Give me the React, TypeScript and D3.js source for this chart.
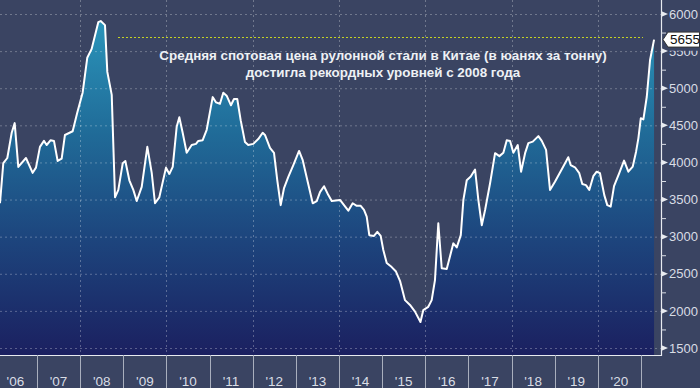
import React, { useEffect, useRef } from "react";
import * as d3 from "d3";

// decimal years (vertices of the line)
const years = [
  2006.142, 2006.219, 2006.312, 2006.414, 2006.483, 2006.567, 2006.745, 2006.9, 2006.977,
  2007.069, 2007.162, 2007.225, 2007.318, 2007.394, 2007.48, 2007.573, 2007.649, 2007.828, 2007.934,
  2008.059, 2008.166, 2008.268, 2008.421, 2008.477, 2008.576, 2008.63, 2008.732, 2008.808, 2008.885, 2008.987,
  2009.047, 2009.14, 2009.232, 2009.311, 2009.427, 2009.557, 2009.659, 2009.735, 2009.835, 2009.99,
  2010.067, 2010.146, 2010.238, 2010.299, 2010.377, 2010.47, 2010.586, 2010.686, 2010.739, 2010.841, 2010.934,
  2011.073, 2011.149, 2011.242, 2011.319, 2011.397, 2011.497, 2011.567, 2011.643, 2011.722, 2011.822, 2011.898,
  2012.014, 2012.13, 2012.232, 2012.285, 2012.401, 2012.494, 2012.57, 2012.649, 2012.726, 2012.825, 2012.941,
  2013.074, 2013.159, 2013.266, 2013.391, 2013.484, 2013.56, 2013.653, 2013.753, 2013.832,
  2014.024, 2014.117, 2014.216, 2014.318, 2014.411, 2014.504, 2014.58, 2014.643, 2014.703, 2014.812, 2014.889, 2014.967,
  2015.028, 2015.107, 2015.223, 2015.322, 2015.415, 2015.531, 2015.647, 2015.763, 2015.89, 2015.955,
  2016.071, 2016.15, 2016.226, 2016.303, 2016.382, 2016.498, 2016.651, 2016.73, 2016.823, 2016.883, 2016.961,
  2017.054, 2017.154, 2017.23, 2017.309, 2017.386, 2017.502, 2017.618, 2017.718, 2017.81, 2017.889, 2017.966,
  2018.042, 2018.144, 2018.221, 2018.314, 2018.39, 2018.492, 2018.622, 2018.701, 2018.801, 2018.892,
  2019.007, 2019.2, 2019.316, 2019.371, 2019.471, 2019.571, 2019.641, 2019.726, 2019.803, 2019.896, 2019.975,
  2020.051, 2020.151, 2020.22, 2020.299, 2020.376, 2020.499, 2020.608, 2020.707, 2020.809, 2020.886, 2020.939, 2020.995,
  2021.055, 2021.134, 2021.21, 2021.303,
];

// average spot price, yuan per tonne
const prices = [
  3450, 3990, 4060, 4400, 4530, 3940, 4060, 3860, 3930,
  4210, 4290, 4235, 4300, 4290, 4020, 4050, 4370, 4420, 4670,
  4940, 5410, 5530, 5890, 5905, 5850, 5220, 4910, 3530, 3630, 3990,
  4020, 3760, 3630, 3480, 3670, 4210, 3860, 3450, 3530, 3930,
  3845, 3940, 4480, 4610, 4400, 4130, 4235, 4250, 4290, 4300, 4440,
  4880, 4810, 4790, 4940, 4900, 4770, 4855, 4855, 4570, 4275, 4235,
  4250, 4315, 4400, 4370, 4195, 4130, 3760, 3425, 3655, 3805, 3965,
  4155, 4030, 3760, 3450, 3480, 3600, 3680, 3560, 3480,
  3495, 3425, 3350, 3450, 3415, 3415, 3360, 3270, 3020, 3010, 3065, 3010,
  2820, 2645, 2590, 2530, 2405, 2145, 2080, 1990, 1850, 2010,
  2055, 2145, 2415, 3180, 2575, 2565, 2910, 2855, 3020, 3495, 3760,
  3810, 3905, 3495, 3155, 3360, 3720, 4125, 4085, 4130, 4300, 4290,
  4130, 4235, 3875, 4125, 4260, 4280, 4355, 4290, 4170, 3630,
  3740, 3945, 4070, 3965, 3935, 3855, 3710, 3695, 3630, 3815, 3875,
  3855, 3560, 3425, 3405, 3680, 3860, 4025, 3875, 3945, 4145, 4325, 4595,
  4580, 4885, 5380, 5655,
];

const yTicks = [1500, 2000, 2500, 3000, 3500, 4000, 4500, 5000, 5500, 6000];
const yearLabels = ["'06", "'07", "'08", "'09", "'10", "'11", "'12", "'13", "'14", "'15", "'16", "'17", "'18", "'19", "'20"];
const titleLines = [
  "Средняя спотовая цена рулонной стали в Китае (в юанях за тонну)",
  "достигла рекордных уровней с 2008 года",
];
// dotted reference level (2008 record) and its span
const recordLevel = 5690;
const recordSpan = [2008.877, 2021.047];

const toDate = (t: number) => {
  const y = Math.floor(t);
  const a = +new Date(y, 0, 1);
  const b = +new Date(y + 1, 0, 1);
  return new Date(a + (t - y) * (b - a));
};

export default function App() {
  const ref = useRef<SVGSVGElement>(null);

  useEffect(() => {
    document.body.style.margin = "0";
    const width = 700;
    const height = 388;
    const plotRight = 661;
    const plotBottom = 355;
    const font = "'Liberation Sans', Arial, sans-serif";

    const svg = d3.select(ref.current);
    svg.selectAll("*").remove();

    const x = d3
      .scaleTime()
      .domain([new Date(2006, 0, 1), new Date(2021, 0, 1)])
      .range([-6.14, 641]);
    const y = d3.scaleLinear().domain([1500, 6000]).range([348, 14]);

    const data = years.map((t, i) => ({ date: toDate(t), value: prices[i] }));

    svg.append("rect").attr("width", width).attr("height", height).attr("fill", "#3a4462");

    const defs = svg.append("defs");
    const grad = defs
      .append("linearGradient")
      .attr("id", "areaGrad")
      .attr("gradientUnits", "userSpaceOnUse")
      .attr("x1", 0)
      .attr("x2", 0)
      .attr("y1", 14)
      .attr("y2", plotBottom);
    [
      [0, "#2b97bc"],
      [0.35, "#206b98"],
      [0.65, "#1d467e"],
      [1, "#1b2060"],
    ].forEach(([o, c]) => grad.append("stop").attr("offset", o as number).attr("stop-color", c as string));

    const area = d3
      .area<{ date: Date; value: number }>()
      .x((d) => x(d.date))
      .y0(plotBottom)
      .y1((d) => y(d.value));
    const line = d3
      .line<{ date: Date; value: number }>()
      .x((d) => x(d.date))
      .y((d) => y(d.value));

    svg.append("path").datum(data).attr("d", area).attr("fill", "url(#areaGrad)");

    // grid
    const grid = svg.append("g").attr("stroke", "rgba(255,255,255,0.28)").attr("stroke-dasharray", "2,3");
    grid
      .selectAll("line.h")
      .data(yTicks)
      .join("line")
      .attr("class", "h")
      .attr("x1", 0)
      .attr("x2", plotRight)
      .attr("y1", (d) => y(d) + 0.5)
      .attr("y2", (d) => y(d) + 0.5);
    grid
      .selectAll("line.v")
      .data(d3.range(2008, 2021, 2))
      .join("line")
      .attr("class", "v")
      .attr("x1", (d) => Math.round(x(new Date(d, 0, 1))) + 0.5)
      .attr("x2", (d) => Math.round(x(new Date(d, 0, 1))) + 0.5)
      .attr("y1", 0)
      .attr("y2", plotBottom);

    svg
      .append("path")
      .datum(data)
      .attr("d", line)
      .attr("fill", "none")
      .attr("stroke", "#ffffff")
      .attr("stroke-width", 2)
      .attr("stroke-linejoin", "round");

    // record level
    svg
      .append("line")
      .attr("x1", x(toDate(recordSpan[0])))
      .attr("x2", x(toDate(recordSpan[1])))
      .attr("y1", Math.round(y(recordLevel)) + 0.5)
      .attr("y2", Math.round(y(recordLevel)) + 0.5)
      .attr("stroke", "#c6d423")
      .attr("stroke-width", 1)
      .attr("stroke-dasharray", "2,2");

    // title
    svg
      .append("g")
      .attr("text-anchor", "middle")
      .attr("font-family", font)
      .attr("font-weight", "bold")
      .attr("font-size", 13.4)
      .attr("fill", "#eef1f5")
      .selectAll("text")
      .data(titleLines)
      .join("text")
      .attr("x", 383)
      .attr("y", (_d, i) => 60 + i * 16.5)
      .text((d) => d);

    // axes lines
    svg
      .append("path")
      .attr("d", `M0,${plotBottom + 0.5}H${plotRight + 0.5}V0`)
      .attr("fill", "none")
      .attr("stroke", "#e8ebf0")
      .attr("stroke-width", 1.2);

    // y axis
    const yAxis = svg.append("g").attr("font-family", font).attr("font-size", 13).attr("fill", "#d9dde5");
    yAxis
      .selectAll("line.minor")
      .data(d3.range(1500, 6001, 250).filter((v) => v % 500 !== 0))
      .join("line")
      .attr("class", "minor")
      .attr("x1", plotRight)
      .attr("x2", plotRight + 5)
      .attr("y1", (d) => y(d) + 0.5)
      .attr("y2", (d) => y(d) + 0.5)
      .attr("stroke", "#d9dde5");
    yAxis
      .selectAll("path.tri")
      .data(yTicks)
      .join("path")
      .attr("class", "tri")
      .attr("d", (d) => `M${plotRight},${y(d) - 3}L${plotRight + 7},${y(d)}L${plotRight},${y(d) + 3}Z`)
      .attr("fill", "#e8ebf0");
    yAxis
      .selectAll("text")
      .data(yTicks.filter((d) => d !== 5500))
      .join("text")
      .attr("x", plotRight + 8)
      .attr("y", (d) => y(d))
      .attr("dy", "0.36em")
      .text((d) => d);
    // 5500 sits partly under the last-value flag, as in the original
    yAxis
      .append("text")
      .attr("x", plotRight + 8)
      .attr("y", y(5500))
      .attr("dy", "0.36em")
      .attr("clip-path", "inset(7px 0 0 0)")
      .text(5500);

    // x axis band
    const xAxis = svg.append("g").attr("font-family", font).attr("font-size", 13.5).attr("fill", "#d9dde5");
    xAxis
      .selectAll("line")
      .data(d3.range(2007, 2022))
      .join("line")
      .attr("x1", (d) => Math.round(x(new Date(d, 0, 1))) + 0.5)
      .attr("x2", (d) => Math.round(x(new Date(d, 0, 1))) + 0.5)
      .attr("y1", plotBottom)
      .attr("y2", height)
      .attr("stroke", "#a9afbd");
    xAxis
      .selectAll("text")
      .data(yearLabels)
      .join("text")
      .attr("text-anchor", "middle")
      .attr("x", (_d, i) => (x(new Date(2006 + i, 0, 1)) + x(new Date(2007 + i, 0, 1))) / 2)
      .attr("y", 386)
      .text((d) => d);

    // last value label
    const last = data[data.length - 1];
    const ly = y(last.value);
    svg
      .append("path")
      .attr("d", `M663,${ly}L668,${ly - 7.5}H699.5V${ly + 7.5}H668Z`)
      .attr("fill", "#ffffff")
      .attr("stroke", "#333333")
      .attr("stroke-width", 1);
    svg
      .append("text")
      .attr("x", 670)
      .attr("y", ly)
      .attr("dy", "0.36em")
      .attr("font-family", font)
      .attr("font-size", 13.5)
      .attr("fill", "#111111")
      .text(last.value);
  }, []);

  return <svg ref={ref} width={700} height={388} style={{ display: "block" }} />;
}
